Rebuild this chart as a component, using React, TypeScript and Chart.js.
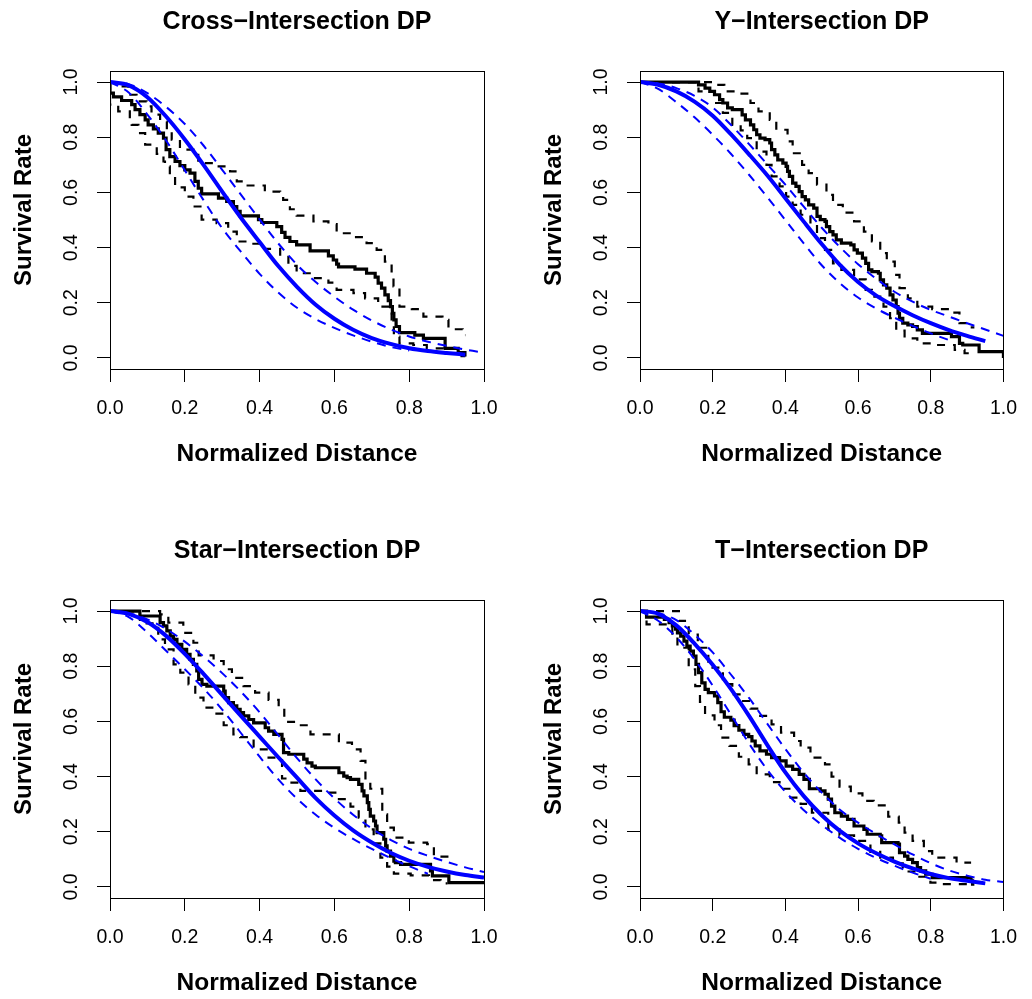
import React, { useEffect, useRef } from "react";
import { Chart, registerables } from "chart.js";

Chart.register(...registerables);

// ---------- shared axis values ----------
const xTicks = [0, 0.2, 0.4, 0.6, 0.8, 1.0];
const yTicks = [0, 0.2, 0.4, 0.6, 0.8, 1.0];
const fitX = [0, 0.05, 0.1, 0.15, 0.2, 0.25, 0.3, 0.35, 0.4, 0.45, 0.5, 0.55, 0.6, 0.65, 0.7, 0.75, 0.8, 0.85, 0.9, 0.95, 1.0];

// ---------- Cross-Intersection ----------
const crossKm: [number, number][] = [[0,1.0],[0,0.96],[0.009,0.946],[0.031,0.933],[0.058,0.918],[0.067,0.9],[0.08,0.882],[0.094,0.863],[0.102,0.845],[0.116,0.83],[0.129,0.815],[0.143,0.797],[0.15,0.755],[0.16,0.73],[0.174,0.712],[0.187,0.697],[0.2,0.682],[0.214,0.67],[0.227,0.64],[0.236,0.615],[0.245,0.595],[0.29,0.579],[0.312,0.567],[0.33,0.549],[0.339,0.531],[0.348,0.515],[0.397,0.501],[0.406,0.491],[0.446,0.476],[0.459,0.455],[0.468,0.437],[0.481,0.422],[0.499,0.41],[0.535,0.388],[0.584,0.37],[0.597,0.355],[0.606,0.34],[0.611,0.33],[0.655,0.322],[0.686,0.307],[0.709,0.293],[0.717,0.271],[0.726,0.253],[0.735,0.229],[0.744,0.208],[0.75,0.186],[0.755,0.162],[0.759,0.138],[0.765,0.114],[0.774,0.092],[0.815,0.083],[0.838,0.071],[0.896,0.035],[0.931,0.019],[0.949,0.005]];
const crossKmUpper: [number, number][] = [[0,1.0],[0.018,0.984],[0.049,0.954],[0.071,0.93],[0.098,0.912],[0.111,0.882],[0.134,0.857],[0.152,0.827],[0.165,0.791],[0.187,0.755],[0.223,0.736],[0.236,0.706],[0.285,0.694],[0.321,0.676],[0.339,0.64],[0.352,0.625],[0.414,0.603],[0.455,0.588],[0.463,0.573],[0.481,0.539],[0.499,0.516],[0.544,0.495],[0.584,0.485],[0.606,0.452],[0.651,0.438],[0.686,0.416],[0.713,0.392],[0.735,0.349],[0.753,0.307],[0.758,0.259],[0.774,0.186],[0.807,0.177],[0.838,0.15],[0.889,0.138],[0.905,0.104],[0.943,0.083],[0.95,0.083]];
const crossKmLower: [number, number][] = [[0,1.0],[0,0.918],[0.022,0.894],[0.053,0.863],[0.058,0.845],[0.076,0.815],[0.094,0.773],[0.125,0.74],[0.143,0.712],[0.147,0.694],[0.16,0.66],[0.174,0.618],[0.2,0.585],[0.223,0.549],[0.245,0.501],[0.285,0.489],[0.316,0.458],[0.339,0.422],[0.374,0.414],[0.414,0.395],[0.455,0.374],[0.477,0.334],[0.499,0.307],[0.544,0.289],[0.584,0.273],[0.606,0.247],[0.651,0.235],[0.682,0.216],[0.717,0.186],[0.753,0.126],[0.759,0.077],[0.774,0.053],[0.811,0.047],[0.847,0.035],[0.891,0.017],[0.94,0.007],[0.95,0.007]];
const crossFit = [1.0, 0.988, 0.945, 0.875, 0.792, 0.7, 0.603, 0.508, 0.42, 0.333, 0.258, 0.193, 0.142, 0.102, 0.072, 0.051, 0.035, 0.025, 0.018, 0.012];
const crossFitUpper = [1.0, 0.992, 0.96, 0.91, 0.848, 0.77, 0.682, 0.592, 0.502, 0.415, 0.338, 0.275, 0.222, 0.175, 0.136, 0.104, 0.078, 0.059, 0.044, 0.03, 0.019];
const crossFitLower = [1.0, 0.962, 0.882, 0.788, 0.68, 0.572, 0.47, 0.385, 0.305, 0.237, 0.182, 0.141, 0.109, 0.082, 0.059, 0.04, 0.027];

// ---------- Y-Intersection ----------
const yKm: [number, number][] = [[0,1.0],[0.161,0.99],[0.179,0.978],[0.192,0.966],[0.205,0.954],[0.219,0.936],[0.228,0.924],[0.241,0.906],[0.254,0.9],[0.281,0.881],[0.29,0.863],[0.304,0.845],[0.313,0.827],[0.321,0.809],[0.33,0.797],[0.344,0.791],[0.357,0.779],[0.362,0.755],[0.371,0.736],[0.379,0.718],[0.393,0.706],[0.402,0.694],[0.406,0.676],[0.411,0.658],[0.42,0.634],[0.429,0.622],[0.438,0.603],[0.446,0.585],[0.455,0.573],[0.464,0.555],[0.478,0.543],[0.487,0.513],[0.496,0.501],[0.509,0.495],[0.513,0.476],[0.522,0.458],[0.531,0.446],[0.54,0.428],[0.554,0.416],[0.58,0.41],[0.589,0.392],[0.598,0.38],[0.612,0.362],[0.621,0.343],[0.629,0.319],[0.638,0.313],[0.656,0.307],[0.661,0.283],[0.67,0.265],[0.679,0.253],[0.688,0.229],[0.696,0.21],[0.705,0.186],[0.71,0.162],[0.714,0.144],[0.723,0.126],[0.737,0.12],[0.75,0.114],[0.763,0.102],[0.777,0.089],[0.857,0.077],[0.879,0.053],[0.888,0.047],[0.933,0.023],[1.0,0.0]];
const yKmUpper: [number, number][] = [[0,1.0],[0.21,0.99],[0.232,0.966],[0.272,0.958],[0.304,0.924],[0.326,0.894],[0.357,0.863],[0.375,0.827],[0.406,0.785],[0.42,0.742],[0.446,0.7],[0.464,0.67],[0.487,0.628],[0.513,0.591],[0.531,0.555],[0.558,0.527],[0.589,0.495],[0.616,0.458],[0.638,0.422],[0.661,0.38],[0.679,0.349],[0.701,0.301],[0.714,0.253],[0.737,0.216],[0.763,0.186],[0.804,0.177],[0.853,0.164],[0.879,0.126],[0.906,0.111],[0.92,0.111]];
const yKmLower: [number, number][] = [[0,1.0],[0.161,0.966],[0.205,0.924],[0.228,0.888],[0.254,0.845],[0.277,0.825],[0.295,0.797],[0.321,0.748],[0.348,0.7],[0.362,0.658],[0.384,0.622],[0.402,0.585],[0.42,0.555],[0.442,0.519],[0.469,0.482],[0.487,0.434],[0.509,0.392],[0.531,0.343],[0.554,0.319],[0.589,0.285],[0.621,0.247],[0.638,0.222],[0.67,0.186],[0.688,0.144],[0.705,0.099],[0.728,0.071],[0.763,0.053],[0.813,0.047],[0.866,0.029],[0.893,0.017],[0.911,0.017]];
const yFit = [1.0, 0.99, 0.966, 0.929, 0.878, 0.811, 0.738, 0.662, 0.579, 0.495, 0.413, 0.337, 0.275, 0.226, 0.188, 0.155, 0.126, 0.101, 0.08, 0.061];
const yFitUpper = [1.0, 0.995, 0.978, 0.95, 0.908, 0.845, 0.775, 0.702, 0.628, 0.549, 0.472, 0.402, 0.34, 0.287, 0.24, 0.204, 0.174, 0.15, 0.126, 0.103, 0.08];
const yFitLower = [1.0, 0.975, 0.927, 0.872, 0.809, 0.74, 0.664, 0.583, 0.5, 0.416, 0.336, 0.271, 0.219, 0.179, 0.146, 0.116, 0.089, 0.065];

// ---------- Star-Intersection ----------
const starKm: [number, number][] = [[0,1.0],[0.08,0.982],[0.134,0.958],[0.143,0.946],[0.152,0.928],[0.161,0.909],[0.17,0.897],[0.179,0.879],[0.192,0.861],[0.205,0.843],[0.214,0.825],[0.223,0.807],[0.232,0.783],[0.237,0.752],[0.246,0.734],[0.259,0.728],[0.304,0.71],[0.308,0.686],[0.317,0.668],[0.33,0.656],[0.339,0.644],[0.348,0.632],[0.357,0.62],[0.371,0.607],[0.384,0.595],[0.415,0.577],[0.424,0.565],[0.438,0.553],[0.46,0.535],[0.464,0.487],[0.478,0.481],[0.518,0.463],[0.527,0.45],[0.54,0.438],[0.549,0.432],[0.612,0.414],[0.625,0.402],[0.634,0.396],[0.643,0.39],[0.665,0.372],[0.674,0.348],[0.679,0.33],[0.688,0.306],[0.692,0.281],[0.696,0.257],[0.705,0.239],[0.71,0.221],[0.714,0.197],[0.732,0.173],[0.737,0.149],[0.741,0.13],[0.75,0.112],[0.759,0.094],[0.763,0.088],[0.777,0.082],[0.857,0.058],[0.862,0.04],[0.906,0.016],[1.0,0.016]];
const starKmUpper: [number, number][] = [[0,1.0],[0.134,0.988],[0.156,0.958],[0.196,0.921],[0.223,0.885],[0.237,0.839],[0.277,0.819],[0.304,0.789],[0.326,0.758],[0.357,0.728],[0.388,0.704],[0.424,0.678],[0.451,0.65],[0.466,0.598],[0.504,0.586],[0.536,0.553],[0.612,0.523],[0.647,0.499],[0.67,0.457],[0.683,0.378],[0.696,0.356],[0.728,0.263],[0.741,0.215],[0.759,0.179],[0.799,0.161],[0.848,0.155],[0.866,0.11],[0.902,0.088],[0.906,0.088]];
const starKmLower: [number, number][] = [[0,1.0],[0.08,0.955],[0.129,0.897],[0.147,0.861],[0.17,0.807],[0.188,0.777],[0.21,0.734],[0.228,0.686],[0.25,0.65],[0.281,0.628],[0.304,0.586],[0.33,0.553],[0.348,0.543],[0.384,0.499],[0.424,0.469],[0.46,0.393],[0.478,0.378],[0.509,0.348],[0.571,0.342],[0.607,0.318],[0.643,0.291],[0.665,0.251],[0.683,0.209],[0.705,0.158],[0.723,0.106],[0.741,0.074],[0.759,0.048],[0.804,0.042],[0.853,0.025],[0.884,0.013],[0.902,0.013]];
const starFit = [1.0, 0.99, 0.96, 0.91, 0.845, 0.772, 0.696, 0.62, 0.545, 0.47, 0.396, 0.322, 0.259, 0.205, 0.161, 0.124, 0.095, 0.073, 0.056, 0.043, 0.034];
const starFitUpper = [1.0, 0.992, 0.97, 0.935, 0.889, 0.835, 0.775, 0.708, 0.633, 0.55, 0.467, 0.39, 0.321, 0.262, 0.212, 0.171, 0.138, 0.113, 0.091, 0.071, 0.054];
const starFitLower = [1.0, 0.978, 0.922, 0.856, 0.789, 0.72, 0.643, 0.558, 0.472, 0.39, 0.32, 0.262, 0.214, 0.174, 0.138, 0.105, 0.075, 0.048];

// ---------- T-Intersection ----------
const tKm: [number, number][] = [[0,1.0],[0.018,0.978],[0.067,0.97],[0.08,0.958],[0.089,0.946],[0.098,0.934],[0.103,0.921],[0.112,0.909],[0.121,0.891],[0.129,0.873],[0.138,0.855],[0.147,0.837],[0.154,0.807],[0.161,0.777],[0.17,0.74],[0.179,0.716],[0.188,0.704],[0.205,0.692],[0.214,0.668],[0.223,0.635],[0.232,0.615],[0.25,0.605],[0.259,0.585],[0.272,0.568],[0.286,0.553],[0.299,0.545],[0.308,0.529],[0.317,0.511],[0.33,0.493],[0.348,0.481],[0.362,0.469],[0.384,0.457],[0.402,0.438],[0.42,0.426],[0.438,0.408],[0.451,0.39],[0.466,0.356],[0.496,0.348],[0.509,0.336],[0.518,0.318],[0.527,0.293],[0.536,0.269],[0.554,0.257],[0.571,0.245],[0.589,0.221],[0.616,0.209],[0.625,0.191],[0.661,0.185],[0.665,0.161],[0.71,0.155],[0.714,0.124],[0.728,0.112],[0.737,0.1],[0.75,0.088],[0.763,0.07],[0.772,0.058],[0.786,0.046],[0.804,0.034],[0.911,0.022],[0.915,0.01],[0.92,0.01]];
const tKmUpper: [number, number][] = [[0,1.0],[0.107,0.964],[0.134,0.915],[0.159,0.867],[0.188,0.795],[0.228,0.735],[0.254,0.698],[0.277,0.674],[0.304,0.646],[0.326,0.62],[0.362,0.589],[0.388,0.559],[0.424,0.529],[0.442,0.505],[0.469,0.469],[0.509,0.444],[0.527,0.4],[0.549,0.364],[0.58,0.339],[0.612,0.312],[0.643,0.296],[0.683,0.255],[0.712,0.233],[0.728,0.197],[0.75,0.167],[0.781,0.13],[0.804,0.106],[0.871,0.088],[0.911,0.088]];
const tKmLower: [number, number][] = [[0,1.0],[0.018,0.952],[0.089,0.909],[0.103,0.867],[0.134,0.789],[0.152,0.728],[0.165,0.671],[0.179,0.622],[0.205,0.586],[0.223,0.541],[0.246,0.511],[0.272,0.472],[0.299,0.444],[0.321,0.408],[0.357,0.38],[0.384,0.356],[0.411,0.324],[0.442,0.301],[0.473,0.269],[0.518,0.209],[0.549,0.187],[0.589,0.167],[0.634,0.127],[0.661,0.106],[0.696,0.086],[0.723,0.056],[0.763,0.037],[0.799,0.016],[0.83,0.01],[0.902,0.004],[0.915,0.004]];
const tFit = [1.0, 0.99, 0.948, 0.882, 0.805, 0.718, 0.62, 0.515, 0.415, 0.33, 0.26, 0.203, 0.158, 0.122, 0.092, 0.067, 0.047, 0.032, 0.022, 0.013];
const tFitUpper = [1.0, 0.993, 0.967, 0.915, 0.85, 0.77, 0.685, 0.592, 0.5, 0.415, 0.342, 0.28, 0.233, 0.192, 0.154, 0.118, 0.086, 0.06, 0.041, 0.026, 0.018];
const tFitLower = [1.0, 0.965, 0.905, 0.825, 0.73, 0.625, 0.52, 0.425, 0.345, 0.279, 0.225, 0.178, 0.138, 0.105, 0.077, 0.052, 0.03];

const titles = ["Cross\u2212Intersection DP", "Y\u2212Intersection DP", "Star\u2212Intersection DP", "T\u2212Intersection DP"];
const xLabel = "Normalized Distance";
const yLabel = "Survival Rate";

const FONT = '"Liberation Sans", Arial, Helvetica, sans-serif';
const BLUE = "#0000FF";

type Panel = {
  title: string;
  km: [number, number][];
  kmUpper: [number, number][];
  kmLower: [number, number][];
  fit: number[];
  fitUpper: number[];
  fitLower: number[];
  left: number;
  top: number;
  width: number;
  plotRight: number;
};

const PANEL_H = 470;

const panels: Panel[] = [
  { title: titles[0], km: crossKm, kmUpper: crossKmUpper, kmLower: crossKmLower, fit: crossFit, fitUpper: crossFitUpper, fitLower: crossFitLower, left: 0, top: 0, width: 516, plotRight: 484 },
  { title: titles[1], km: yKm, kmUpper: yKmUpper, kmLower: yKmLower, fit: yFit, fitUpper: yFitUpper, fitLower: yFitLower, left: 530, top: 0, width: 502, plotRight: 483.3 },
  { title: titles[2], km: starKm, kmUpper: starKmUpper, kmLower: starKmLower, fit: starFit, fitUpper: starFitUpper, fitLower: starFitLower, left: 0, top: 529, width: 516, plotRight: 484 },
  { title: titles[3], km: tKm, kmUpper: tKmUpper, kmLower: tKmLower, fit: tFit, fitUpper: tFitUpper, fitLower: tFitLower, left: 530, top: 529, width: 502, plotRight: 483.3 },
];

const curve = (ys: number[]) => ys.map((y, i) => ({ x: fitX[i], y }));
const steps = (pairs: [number, number][]) => pairs.map(([x, y]) => ({ x, y }));

const rDecor = {
  id: "rDecor",
  afterDraw(chart: any, _args: any, opts: any) {
    const { ctx, chartArea: a } = chart;
    ctx.save();
    ctx.strokeStyle = "#000";
    ctx.lineWidth = 1;
    ctx.strokeRect(Math.round(a.left) + 0.5, Math.round(a.top) + 0.5, Math.round(a.right - a.left), Math.round(a.bottom - a.top));
    ctx.fillStyle = "#000";
    ctx.textAlign = "center";
    ctx.textBaseline = "alphabetic";
    const cx = (a.left + a.right) / 2;
    ctx.font = `bold 25px ${FONT}`;
    ctx.fillText(opts.title, cx, a.top - 42);
    ctx.font = `bold 24.5px ${FONT}`;
    ctx.fillText(opts.xlab, cx, a.bottom + 92);
    ctx.font = `bold 24px ${FONT}`;
    ctx.translate(31, (a.top + a.bottom) / 2 - 10);
    ctx.rotate(-Math.PI / 2);
    ctx.fillText(opts.ylab, 0, 0);
    ctx.restore();
  },
};

function PanelChart({ p }: { p: Panel }) {
  const ref = useRef<HTMLCanvasElement | null>(null);
  useEffect(() => {
    if (!ref.current) return;
    const blueSolid = { borderColor: BLUE, borderWidth: 4, pointRadius: 0, tension: 0.4, cubicInterpolationMode: "monotone", fill: false, clip: 0 };
    const blueDash = { borderColor: BLUE, borderWidth: 2, borderDash: [9, 7], pointRadius: 0, tension: 0.4, cubicInterpolationMode: "monotone", fill: false, clip: 0 };
    const blackSolid = { borderColor: "#000", borderWidth: 3.2, pointRadius: 0, stepped: "before", fill: false, clip: 0 };
    const blackDash = { borderColor: "#000", borderWidth: 2.2, borderDash: [8, 8], pointRadius: 0, stepped: "before", fill: false, clip: 0 };
    const tickFont = { family: FONT, size: 19.5 };
    const chart = new Chart(ref.current, {
      type: "line",
      data: {
        datasets: [
          { ...blueSolid, data: curve(p.fit) },
          { ...blueDash, data: curve(p.fitUpper) },
          { ...blueDash, data: curve(p.fitLower) },
          { ...blackSolid, data: steps(p.km) },
          { ...blackDash, data: steps(p.kmUpper) },
          { ...blackDash, data: steps(p.kmLower) },
        ] as any,
      },
      options: {
        animation: false,
        responsive: false,
        devicePixelRatio: 1,
        events: [],
        layout: { padding: { left: 0, top: 71, right: p.width - p.plotRight, bottom: 0 } },
        plugins: {
          legend: { display: false },
          tooltip: { enabled: false },
          title: { display: false },
          rDecor: { title: p.title, xlab: xLabel, ylab: yLabel },
        } as any,
        scales: {
          x: {
            type: "linear",
            min: 0,
            max: 1,
            afterBuildTicks: (s: any) => { s.ticks = xTicks.map((v) => ({ value: v })); },
            afterFit: (s: any) => { s.height = PANEL_H - 369; },
            border: { display: false },
            grid: { drawOnChartArea: false, drawTicks: true, tickLength: 13, color: "#000", lineWidth: 1 },
            ticks: { color: "#000", font: tickFont, padding: 15, maxRotation: 0, autoSkip: false, callback: (v: any) => Number(v).toFixed(1) },
          },
          y: {
            type: "linear",
            min: -0.04,
            max: 1.04,
            afterBuildTicks: (s: any) => { s.ticks = yTicks.map((v) => ({ value: v })); },
            afterFit: (s: any) => { s.width = 110; },
            border: { display: false },
            grid: { drawOnChartArea: false, drawTicks: true, tickLength: 13, color: "#000", lineWidth: 1 },
            ticks: { color: "#000", font: tickFont, padding: 12, minRotation: 90, maxRotation: 90, crossAlign: "center", autoSkip: false, callback: (v: any) => Number(v).toFixed(1) },
          },
        } as any,
      },
      plugins: [rDecor],
    });
    return () => chart.destroy();
  }, [p]);
  return (
    <canvas
      ref={ref}
      width={p.width}
      height={PANEL_H}
      style={{ position: "absolute", left: p.left, top: p.top, width: p.width, height: PANEL_H }}
    />
  );
}

export default function App() {
  return (
    <div style={{ position: "absolute", left: 0, top: 0, width: 1032, height: 999, overflow: "hidden", background: "#fff" }}>
      {panels.map((p, i) => (
        <PanelChart key={i} p={p} />
      ))}
    </div>
  );
}
